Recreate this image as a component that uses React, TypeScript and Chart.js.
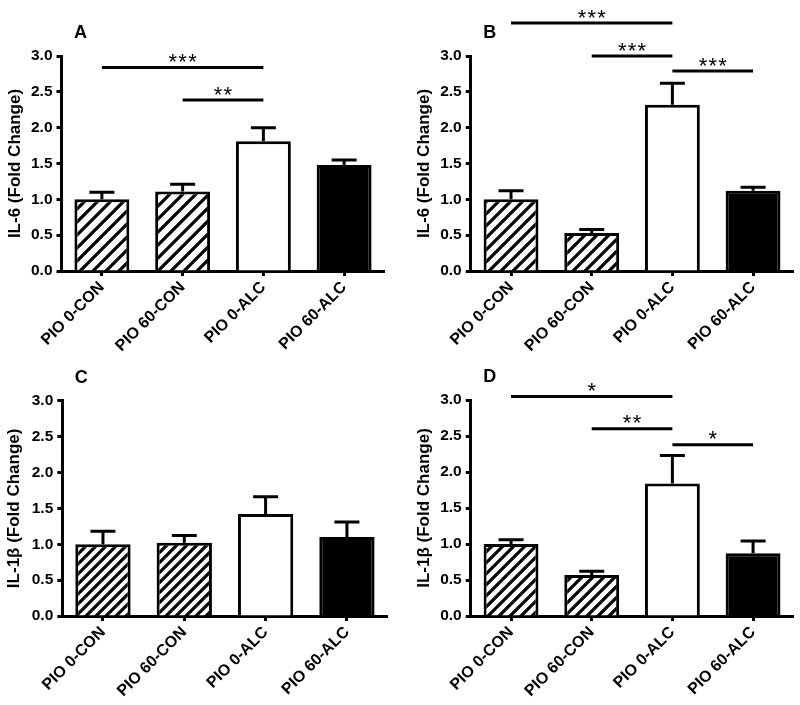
import React, { useEffect, useRef } from 'react';
import { Chart, registerables } from 'chart.js';

Chart.register(...registerables);

// ---------------- data ----------------
const categories = ['PIO 0-CON', 'PIO 60-CON', 'PIO 0-ALC', 'PIO 60-ALC'];
const yTickValues = [0, 0.5, 1.0, 1.5, 2.0, 2.5, 3.0];
const panelLetters = ['A', 'B', 'C', 'D'];
const yTitles = ['IL-6 (Fold Change)', 'IL-6 (Fold Change)', 'IL-1β (Fold Change)', 'IL-1β (Fold Change)'];

const meansA = [1.0, 1.11, 1.81, 1.48];
const semA = [0.10, 0.10, 0.19, 0.07];
const meansB = [1.0, 0.53, 2.32, 1.12];
const semB = [0.12, 0.05, 0.30, 0.05];
const meansC = [1.0, 1.02, 1.42, 1.10];
const semC = [0.18, 0.10, 0.24, 0.21];
const meansD = [1.0, 0.57, 1.84, 0.87];
const semD = [0.06, 0.05, 0.39, 0.17];

type Sig = { from: number; to: number; y: number; stars: string };
const sigA: Sig[] = [
  { from: 0, to: 2, y: 2.84, stars: '***' },
  { from: 1, to: 2, y: 2.385, stars: '**' },
];
const sigB: Sig[] = [
  { from: 0, to: 2, y: 3.46, stars: '***' },
  { from: 1, to: 2, y: 3.0, stars: '***' },
  { from: 2, to: 3, y: 2.79, stars: '***' },
];
const sigC: Sig[] = [];
const sigD: Sig[] = [
  { from: 0, to: 2, y: 3.05, stars: '*' },
  { from: 1, to: 2, y: 2.6, stars: '**' },
  { from: 2, to: 3, y: 2.38, stars: '*' },
];

const panelData = [
  { means: meansA, sem: semA, sig: sigA },
  { means: meansB, sem: semB, sig: sigB },
  { means: meansC, sem: semC, sig: sigC },
  { means: meansD, sem: semD, sig: sigD },
];

// ---------------- layout / style ----------------
const FONT = "'Liberation Sans', Arial, Helvetica, sans-serif";
const frames = [
  { x: 0, y: 0, w: 400, h: 352, left: 61.5, right: 384.5, top: 56, bottom: 271, hatch: 13, titleOff: 46 },
  { x: 400, y: 0, w: 400, h: 352, left: 70.7, right: 393.4, top: 56, bottom: 271, hatch: 12, titleOff: 46 },
  { x: 0, y: 352, w: 400, h: 353, left: 62.3, right: 387.6, top: 48.7, bottom: 264, hatch: 10, titleOff: 48 },
  { x: 400, y: 352, w: 400, h: 353, left: 70.7, right: 393.4, top: 48, bottom: 264, hatch: 11, titleOff: 46 },
];

function makeHatch(s: number): CanvasPattern | string {
  const c = document.createElement('canvas');
  c.width = s;
  c.height = s;
  const g = c.getContext('2d');
  if (!g) return '#ffffff';
  g.fillStyle = '#ffffff';
  g.fillRect(0, 0, s, s);
  g.strokeStyle = '#000000';
  g.lineWidth = 3.2;
  g.beginPath();
  g.moveTo(-s, s);
  g.lineTo(s, -s);
  g.moveTo(0, s);
  g.lineTo(s, 0);
  g.moveTo(0, 2 * s);
  g.lineTo(2 * s, 0);
  g.stroke();
  return g.createPattern(c, 'repeat') || '#ffffff';
}

function PanelChart({ index }: { index: number }) {
  const ref = useRef<HTMLCanvasElement>(null);
  const f = frames[index];

  useEffect(() => {
    const canvas = ref.current;
    if (!canvas) return;
    const d = panelData[index];
    const hatch = makeHatch(f.hatch);
    const fills = [hatch, hatch, '#ffffff', '#000000'];
    const titleSize = 17;
    const titleCenter = f.left - f.titleOff;

    const overlay = {
      id: 'overlay' + index,
      afterDraw(chart: any) {
        const ctx: CanvasRenderingContext2D = chart.ctx;
        const xs = chart.scales.x;
        const ys = chart.scales.y;
        ctx.save();
        ctx.strokeStyle = '#000';
        ctx.fillStyle = '#000';
        ctx.lineWidth = 3;
        ctx.lineCap = 'butt';
        // error bars (upper only)
        d.means.forEach((m: number, i: number) => {
          const x = xs.getPixelForValue(i);
          const y0 = ys.getPixelForValue(m);
          const y1 = ys.getPixelForValue(m + d.sem[i]);
          ctx.beginPath();
          ctx.moveTo(x, y0);
          ctx.lineTo(x, y1);
          ctx.moveTo(x - 12.5, y1);
          ctx.lineTo(x + 12.5, y1);
          ctx.stroke();
        });
        // significance brackets
        ctx.font = `normal 22px ${FONT}`;
        ctx.textAlign = 'center';
        ctx.textBaseline = 'alphabetic';
        d.sig.forEach((s: Sig) => {
          const xa = xs.getPixelForValue(s.from);
          const xb = xs.getPixelForValue(s.to);
          const y = ys.getPixelForValue(s.y);
          ctx.beginPath();
          ctx.moveTo(xa, y);
          ctx.lineTo(xb, y);
          ctx.stroke();
          const n = s.stars.length;
          const mid = (xa + xb) / 2;
          for (let k = 0; k < n; k++) {
            ctx.fillText('*', mid + (k - (n - 1) / 2) * 9.8, y + 1.5);
          }
        });
        // panel letter
        ctx.font = `bold 18px ${FONT}`;
        ctx.textAlign = 'left';
        ctx.textBaseline = 'middle';
        ctx.fillText(panelLetters[index], chart.chartArea.left + 12.5, chart.chartArea.top - 23);
        ctx.restore();
      },
    };

    const chart = new Chart(canvas, {
      type: 'bar',
      data: {
        labels: categories,
        datasets: [
          {
            data: d.means,
            backgroundColor: fills as any,
            borderColor: '#000000',
            borderWidth: 3,
            barPercentage: 0.68,
            categoryPercentage: 1,
          },
        ],
      },
      options: {
        responsive: false,
        maintainAspectRatio: false,
        animation: false,
        layout: { padding: { left: 0, top: f.top, right: f.w - f.right, bottom: 0 } },
        plugins: { legend: { display: false }, tooltip: { enabled: false } },
        scales: {
          x: {
            type: 'category',
            offset: true,
            z: 1,
            border: { display: true, color: '#000', width: 3 },
            grid: {
              offset: false,
              drawOnChartArea: false,
              drawTicks: true,
              tickLength: 5,
              tickWidth: 3,
              tickColor: '#000',
            },
            ticks: {
              autoSkip: false,
              maxRotation: 45,
              minRotation: 45,
              padding: 2,
              color: '#000',
              font: { family: FONT, size: 16, weight: 'bold' },
            },
            afterFit: (s: any) => {
              s.height = f.h - f.bottom;
            },
          },
          y: {
            min: 0,
            max: 3,
            z: 1,
            border: { display: true, color: '#000', width: 3 },
            grid: {
              drawOnChartArea: false,
              drawTicks: true,
              tickLength: 5,
              tickWidth: 3,
              tickColor: '#000',
            },
            afterBuildTicks: (s: any) => {
              s.ticks = yTickValues.map((v) => ({ value: v }));
            },
            ticks: {
              padding: 4,
              color: '#000',
              font: { family: FONT, size: 15.5, weight: 'bold' },
              callback: (v: any) => Number(v).toFixed(1),
            },
            title: {
              display: true,
              text: yTitles[index],
              color: '#000',
              font: { family: FONT, size: titleSize, weight: 'bold' },
              padding: { top: titleCenter - (titleSize * 1.2) / 2, bottom: 0 },
            },
            afterFit: (s: any) => {
              s.width = f.left;
            },
          },
        },
      },
      plugins: [overlay],
    } as any);

    return () => chart.destroy();
  }, [index]);

  return (
    <canvas
      ref={ref}
      width={f.w}
      height={f.h}
      style={{ position: 'absolute', left: f.x, top: f.y, width: f.w, height: f.h }}
    />
  );
}

export default function App() {
  return (
    <div style={{ position: 'absolute', left: 0, top: 0, width: 800, height: 705, background: '#ffffff' }}>
      {[0, 1, 2, 3].map((i) => (
        <PanelChart key={i} index={i} />
      ))}
    </div>
  );
}
